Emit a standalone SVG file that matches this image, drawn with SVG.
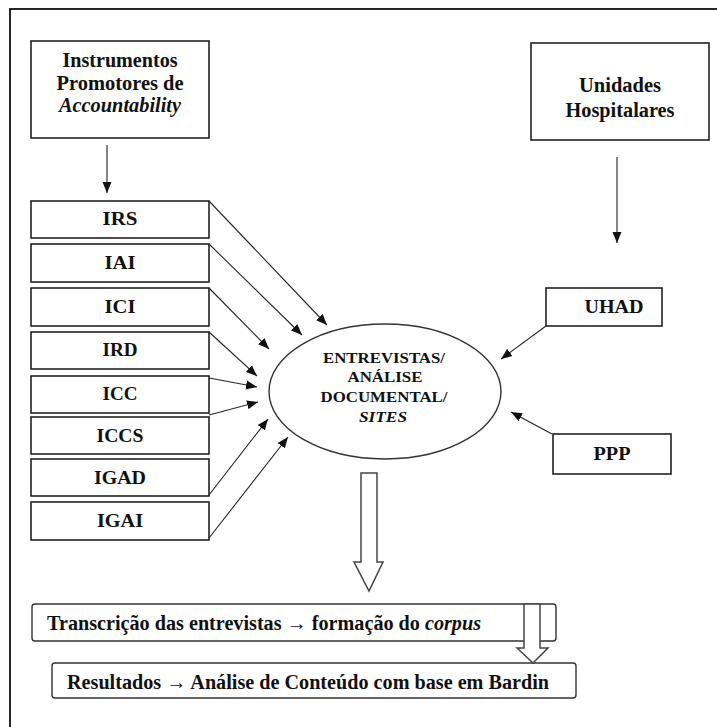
<svg xmlns="http://www.w3.org/2000/svg" width="717" height="727" viewBox="0 0 717 727" font-family="'Liberation Serif', 'DejaVu Serif', serif">
<defs>
<marker id="ah" markerUnits="userSpaceOnUse" markerWidth="12" markerHeight="10" viewBox="0 0 12 10" refX="11" refY="5" orient="auto">
<path d="M0,0.5 L11,5 L0,9.5 Z" fill="#111"/>
</marker>
<style>
text{font-family:'Liberation Serif','DejaVu Serif',serif}
.box{fill:#fff;stroke:#222;stroke-width:1.6}
.rbox{fill:#fff;stroke:#333;stroke-width:1.4}
.t{font-weight:bold;fill:#111;text-anchor:middle}
.tl{font-weight:bold;fill:#111}
.it{font-style:italic}
.c{stroke:#222;stroke-width:1.1;fill:none;marker-end:url(#ah)}
.hol{fill:#fff;stroke:#444;stroke-width:1.5;stroke-linejoin:miter}
</style>
</defs>
<rect x="0" y="0" width="717" height="727" fill="#fff"/>
<rect x="10" y="9" width="720" height="740" fill="none" stroke="#111" stroke-width="1.8"/>

<g id="instrumentos">
<rect class="box" x="31" y="41" width="178" height="97"/>
<text class="t" font-size="20" x="120" y="67" textLength="115" lengthAdjust="spacingAndGlyphs">Instrumentos</text>
<text class="t" font-size="20" x="120" y="90" textLength="127" lengthAdjust="spacingAndGlyphs">Promotores de</text>
<text class="t it" font-size="20" x="120" y="112" textLength="122" lengthAdjust="spacingAndGlyphs">Accountability</text>
</g>
<g id="unidades">
<rect class="box" x="531" y="43" width="178" height="97"/>
<text class="t" font-size="20" x="620" y="92" textLength="82" lengthAdjust="spacingAndGlyphs">Unidades</text>
<text class="t" font-size="20" x="620" y="117" textLength="109" lengthAdjust="spacingAndGlyphs">Hospitalares</text>
</g>

<g id="irs"><rect class="box" x="31" y="201" width="178" height="37"/><text class="t" font-size="18" x="120" y="225" textLength="35" lengthAdjust="spacingAndGlyphs">IRS</text></g>
<g id="iai"><rect class="box" x="31" y="244" width="178" height="38"/><text class="t" font-size="18" x="120" y="269" textLength="31" lengthAdjust="spacingAndGlyphs">IAI</text></g>
<g id="ici"><rect class="box" x="31" y="288" width="178" height="38"/><text class="t" font-size="18" x="120" y="313" textLength="31" lengthAdjust="spacingAndGlyphs">ICI</text></g>
<g id="ird"><rect class="box" x="31" y="332" width="178" height="37"/><text class="t" font-size="18" x="120" y="356" textLength="35" lengthAdjust="spacingAndGlyphs">IRD</text></g>
<g id="icc"><rect class="box" x="31" y="376" width="178" height="37"/><text class="t" font-size="18" x="120" y="400" textLength="35" lengthAdjust="spacingAndGlyphs">ICC</text></g>
<g id="iccs"><rect class="box" x="31" y="417" width="178" height="37"/><text class="t" font-size="18" x="120" y="442" textLength="47" lengthAdjust="spacingAndGlyphs">ICCS</text></g>
<g id="igad"><rect class="box" x="31" y="459" width="178" height="37"/><text class="t" font-size="18" x="120" y="484" textLength="52" lengthAdjust="spacingAndGlyphs">IGAD</text></g>
<g id="igai"><rect class="box" x="31" y="502" width="178" height="38"/><text class="t" font-size="18" x="120" y="527" textLength="46" lengthAdjust="spacingAndGlyphs">IGAI</text></g>

<g id="entrevistas">
<ellipse cx="385" cy="391.5" rx="116" ry="67.5" fill="#fff" stroke="#333" stroke-width="1.4"/>
<text class="t" font-size="15" x="384" y="363" textLength="122" lengthAdjust="spacingAndGlyphs">ENTREVISTAS/</text>
<text class="t" font-size="15" x="385" y="382" textLength="75" lengthAdjust="spacingAndGlyphs">ANÁLISE</text>
<text class="t" font-size="15" x="384" y="402" textLength="127" lengthAdjust="spacingAndGlyphs">DOCUMENTAL/</text>
<text class="t it" font-size="15" x="383" y="422" textLength="48" lengthAdjust="spacingAndGlyphs">SITES</text>
</g>

<g id="uhad"><rect class="box" x="546" y="288" width="116" height="38"/><text class="t" font-size="18" x="614" y="313" textLength="59" lengthAdjust="spacingAndGlyphs">UHAD</text></g>
<g id="ppp"><rect class="box" x="553" y="434" width="118" height="40"/><text class="t" font-size="18" x="612" y="460" textLength="37" lengthAdjust="spacingAndGlyphs">PPP</text></g>

<g id="transcricao">
<rect class="rbox" x="32" y="604" width="524" height="37" rx="3"/>
<text class="tl" font-size="20" x="47" y="630" textLength="434" lengthAdjust="spacingAndGlyphs">Transcrição das entrevistas → formação do <tspan class="it">corpus</tspan></text>
</g>
<g id="resultados">
<rect class="rbox" x="52" y="663" width="524" height="35" rx="3"/>
<text class="tl" font-size="20" x="67" y="689" textLength="482" lengthAdjust="spacingAndGlyphs">Resultados → Análise de Conteúdo com base em Bardin</text>
</g>

<g id="connectors">
<line class="c" x1="107" y1="145" x2="107" y2="193"/>
<line class="c" x1="617" y1="157" x2="617" y2="243"/>
<line class="c" x1="209" y1="201" x2="327" y2="325"/>
<line class="c" x1="209" y1="244" x2="302" y2="335"/>
<line class="c" x1="209" y1="288" x2="269" y2="349"/>
<line class="c" x1="209" y1="332" x2="257" y2="376"/>
<line class="c" x1="209" y1="378" x2="257" y2="387"/>
<line class="c" x1="209" y1="415" x2="258" y2="402"/>
<line class="c" x1="209" y1="495" x2="268" y2="419"/>
<line class="c" x1="209" y1="538" x2="288" y2="437"/>
<line class="c" x1="546" y1="326" x2="501" y2="359"/>
<line class="c" x1="552" y1="434" x2="511" y2="412"/>
<path class="hol" d="M361,473 H377 V562 H383 L369,591 L354,562 H361 Z"/>
<path class="hol" d="M524,604 H540 V648 H548 L533,663 L517,648 H524 Z"/>
</g>
</svg>
